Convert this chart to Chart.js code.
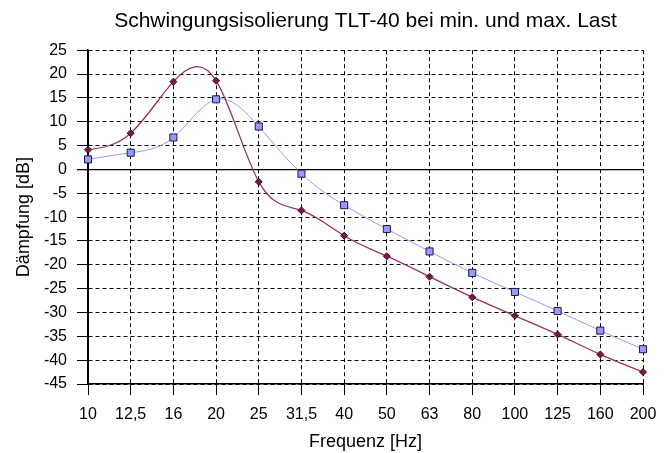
<!DOCTYPE html>
<html><head><meta charset="utf-8">
<script src="https://cdn.jsdelivr.net/npm/chart.js@4/dist/chart.umd.min.js"></script>
<style>html,body{margin:0;padding:0;background:#fff}#w{width:671px;height:453px;position:relative}</style>
</head><body><div id="w"><canvas id="c"></canvas></div>
<script>
const categories = ['10','12,5','16','20','25','31,5','40','50','63','80','100','125','160','200'];
const maxLoad = [4.1, 7.6, 18.4, 18.6, -2.6, -8.6, -13.9, -18.2, -22.5, -26.8, -30.7, -34.6, -38.8, -42.5];
const minLoad = [2.1, 3.5, 6.7, 14.7, 9.0, -0.9, -7.5, -12.5, -17.2, -21.7, -25.7, -29.7, -33.8, -37.7];
const yMin = -45, yMax = 25, yStep = 5;

const FONT = "'Liberation Sans', Arial, sans-serif";
const dashFn = (ctx) => (ctx.tick && ctx.tick.value === 0) ? [] : [4, 3];

// knot slopes of a natural cubic spline through equally spaced values
function naturalSlopes(ys) {
  const n = ys.length;
  const M = new Array(n).fill(0);
  if (n > 2) {
    const m = n - 2;
    const a = [], b = [], c = [], d = [];
    for (let i = 1; i <= m; i++) {
      a.push(1); b.push(4); c.push(1);
      d.push(6 * (ys[i + 1] - 2 * ys[i] + ys[i - 1]));
    }
    for (let i = 1; i < m; i++) {
      const w = a[i] / b[i - 1];
      b[i] -= w * c[i - 1];
      d[i] -= w * d[i - 1];
    }
    const x = new Array(m);
    x[m - 1] = d[m - 1] / b[m - 1];
    for (let i = m - 2; i >= 0; i--) x[i] = (d[i] - c[i] * x[i + 1]) / b[i];
    for (let i = 0; i < m; i++) M[i + 1] = x[i];
  }
  const s = [];
  for (let i = 0; i < n; i++) {
    if (i < n - 1) s.push((ys[i + 1] - ys[i]) - (2 * M[i] + M[i + 1]) / 6);
    else s.push((ys[i] - ys[i - 1]) + (M[i - 1] + 2 * M[i]) / 6);
  }
  return s;
}

// set Chart.js bezier control points so each segment is the natural spline
const splinePlugin = {
  id: 'naturalSpline',
  beforeDatasetDraw(chart, args) {
    const meta = args.meta;
    meta.dataset.updateControlPoints(chart.chartArea, meta.iScale.axis);
    const ys = chart.data.datasets[args.index].data;
    const slopes = naturalSlopes(ys);
    const yS = meta.vScale;
    const pts = meta.data;
    const n = pts.length;
    for (let i = 0; i < n; i++) {
      const p = pts[i];
      const dxPrev = i > 0 ? (p.x - pts[i - 1].x) / 3 : 0;
      const dxNext = i < n - 1 ? (pts[i + 1].x - p.x) / 3 : 0;
      p.cp1x = p.x - dxPrev;
      p.cp1y = yS.getPixelForValue(ys[i] - slopes[i] / 3);
      p.cp2x = p.x + dxNext;
      p.cp2y = yS.getPixelForValue(ys[i] + slopes[i] / 3);
    }
  }
};

new Chart(document.getElementById('c'), {
  type: 'line',
  plugins: [splinePlugin],
  data: {
    labels: categories,
    datasets: [
      {
        label: 'max. Last',
        data: maxLoad,
        borderColor: '#993366',
        backgroundColor: '#7a1a4a',
        borderWidth: 1.3,
        pointStyle: 'rectRot',
        pointRadius: 3.5,
        pointBorderColor: '#3a0a20',
        pointBorderWidth: 1,
        tension: 0.4,
        fill: false
      },
      {
        label: 'min. Last',
        data: minLoad,
        borderColor: '#9999ff',
        backgroundColor: '#9999ff',
        borderWidth: 1,
        pointStyle: 'rect',
        pointRadius: 5,
        pointBorderColor: '#1a1a4d',
        pointBorderWidth: 1,
        tension: 0.4,
        fill: false
      }
    ]
  },
  options: {
    responsive: true,
    maintainAspectRatio: false,
    animation: false,
    devicePixelRatio: 1,
    layout: { padding: { left: 0, right: 28, top: 0, bottom: 0 } },
    plugins: {
      legend: { display: false },
      tooltip: { enabled: false },
      title: {
        display: true,
        text: 'Schwingungsisolierung TLT-40 bei min. und max. Last',
        color: '#000',
        fullSize: false,
        font: { family: FONT, size: 21, weight: 'normal' },
        padding: { top: 9, bottom: 16 }
      }
    },
    scales: {
      x: {
        type: 'category',
        offset: false,
        afterFit: (s) => { s.height = 69; },
        grid: {
          color: '#000',
          lineWidth: 1,
          tickLength: 11,
          tickBorderDash: [],
          tickColor: '#000'
        },
        border: { display: true, color: '#000', width: 1.5, dash: dashFn },
        ticks: {
          color: '#000',
          font: { family: FONT, size: 16 },
          padding: 10,
          maxRotation: 0,
          autoSkip: false
        },
        title: {
          display: true,
          text: 'Frequenz [Hz]',
          color: '#000',
          font: { family: FONT, size: 18 },
          padding: { top: 0, bottom: 0 }
        }
      },
      y: {
        type: 'linear',
        min: yMin,
        max: yMax,
        afterFit: (s) => { s.width = 88; },
        grid: {
          color: '#000',
          lineWidth: (ctx) => (ctx.tick && ctx.tick.value === 0) ? 1.3 : 1,
          tickLength: 11,
          tickBorderDash: [],
          tickColor: '#000'
        },
        border: { display: true, color: '#000', width: 1.5, dash: dashFn },
        ticks: {
          stepSize: yStep,
          color: '#000',
          font: { family: FONT, size: 16 },
          padding: 10
        },
        title: {
          display: true,
          text: 'Dämpfung [dB]',
          color: '#000',
          font: { family: FONT, size: 18 },
          padding: { top: 13, bottom: 0 }
        }
      }
    }
  }
});
</script>
</body></html>
